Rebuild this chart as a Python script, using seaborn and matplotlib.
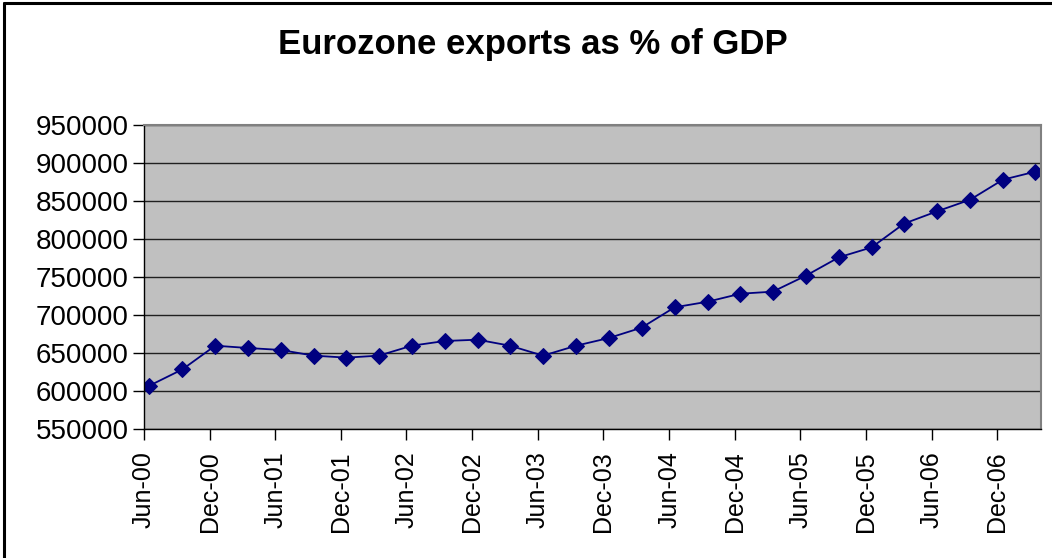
import numpy as np
import pandas as pd
import matplotlib.pyplot as plt
import matplotlib.dates as mdates
from matplotlib.lines import Line2D
import seaborn as sns

# quarterly observations, Jun-00 .. Mar-07
dates = pd.date_range("2000-06-01", periods=28, freq="3MS") + pd.Timedelta(days=15)
exports = [607000, 628500, 659600, 656600, 654000, 646500, 643900, 646500,
           659600, 665800, 667500, 659600, 646500, 659600, 669700, 683300,
           710100, 717500, 728000, 730700, 751700, 775900, 789000, 820200,
           836400, 851700, 878000, 888600]
y_ticks = [550000, 600000, 650000, 700000, 750000, 800000, 850000, 900000, 950000]

df = pd.DataFrame({"date": dates, "exports": exports})

sns.set_style("white")
plt.rcParams["font.family"] = ["Liberation Sans", "DejaVu Sans"]
plt.rcParams["text.color"] = "black"
plt.rcParams["xtick.color"] = "black"
plt.rcParams["ytick.color"] = "black"

fig = plt.figure(figsize=(10.52, 5.58), dpi=100)
ax = fig.add_axes([0.1369, 0.2312, 0.8526, 0.5448])
ax.set_facecolor("#C0C0C0")

sns.lineplot(data=df, x="date", y="exports", ax=ax, color="#000080",
             linewidth=1.3, marker="D", markersize=8, markeredgecolor="#000080")

ax.set_xlim(pd.Timestamp("2000-06-01"), pd.Timestamp("2007-04-01"))
ax.set_ylim(550000, 950000)
ax.set_yticks(y_ticks)
ax.set_yticklabels([str(v) for v in y_ticks])
ax.xaxis.set_major_locator(mdates.MonthLocator(bymonth=[6, 12]))
ax.xaxis.set_major_formatter(mdates.DateFormatter("%b-%y"))
ax.yaxis.grid(True, color="#202020", linewidth=1)
ax.set_axisbelow(True)

ax.tick_params(axis="y", labelsize=20, length=8, width=1, colors="black", left=True, pad=3)
ax.tick_params(axis="x", labelsize=18, length=8, width=1, colors="black", bottom=True,
               labelrotation=90, pad=8)
for side in ["left", "bottom"]:
    ax.spines[side].set_color("black")
    ax.spines[side].set_linewidth(1)
for side in ["top", "right"]:
    ax.spines[side].set_color("#808080")
    ax.spines[side].set_linewidth(1.5)
ax.set_xlabel("")
ax.set_ylabel("")

fig.text(0.507, 0.92, "Eurozone exports as % of GDP", ha="center", va="center",
         fontsize=25, fontweight="bold", color="black")

# chart-area border (only top and left visible in the crop)
fig.add_artist(Line2D([0.004, 1.0], [0.994, 0.994], color="black", linewidth=2.2,
                      transform=fig.transFigure))
fig.add_artist(Line2D([0.004, 0.004], [0.0, 0.994], color="black", linewidth=2.2,
                      transform=fig.transFigure))

fig.savefig("out.png", dpi=100)
